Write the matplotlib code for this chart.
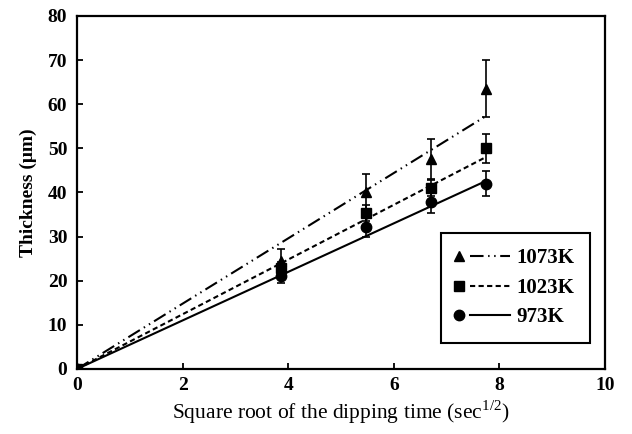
import matplotlib
matplotlib.use("Agg")
import numpy as np
import matplotlib.pyplot as plt
from matplotlib.lines import Line2D
from matplotlib.legend_handler import HandlerBase

# Sqrt of dipping time (sec^1/2): 0, 15, 30, 45, 60 s
sqrt_t = [0.0, 3.873, 5.477, 6.708, 7.746]

# Coating thickness (um) and scatter for each bath temperature
thick_1073 = [0.0, 24.5, 40.0, 47.6, 63.5]
err_1073 = [0.0, 2.7, 4.2, 4.6, 6.5]
thick_1023 = [0.0, 22.8, 35.4, 41.0, 50.0]
err_1023 = [0.0, 1.5, 1.8, 1.8, 3.3]
thick_973 = [0.0, 21.0, 32.2, 37.9, 42.0]
err_973 = [0.0, 1.6, 2.2, 2.6, 2.8]

# parabolic growth constants (linear fit through origin)
slope_1073 = 7.4
slope_1023 = 6.2
slope_973 = 5.5

labels = ["1073K", "1023K", "973K"]

plt.rcParams["font.family"] = ["Liberation Serif", "DejaVu Serif"]
plt.rcParams["mathtext.fontset"] = "custom"
plt.rcParams["mathtext.rm"] = "Liberation Serif"


class MarkerThenLine(HandlerBase):
    """Legend entry: marker on the left, line sample on the right."""

    def create_artists(self, legend, orig_handle, xdescent, ydescent,
                       width, height, fontsize, trans):
        y = height / 2 - ydescent
        x0 = -xdescent
        mk = Line2D([x0 + 0.06 * width], [y], linestyle="none",
                    marker=orig_handle.get_marker(),
                    markersize=orig_handle.get_markersize(), color="black")
        ln = Line2D([x0 + 0.26 * width, x0 + width], [y, y])
        ln.update_from(orig_handle)
        ln.set_marker("None")
        mk.set_transform(trans)
        ln.set_transform(trans)
        return [mk, ln]


fig = plt.figure(figsize=(6.32, 4.34), dpi=100)
ax = fig.add_axes([0.1218, 0.1498, 0.8354, 0.8134])

lw = 1.5
styles = [
    (thick_1073, err_1073, slope_1073, "^", (0, (6.5, 2.2, 0.7, 2.2, 0.7, 2.2))),
    (thick_1023, err_1023, slope_1023, "s", (0, (2.5, 1.6))),
    (thick_973, err_973, slope_973, "o", "-"),
]

x = np.array(sqrt_t)
handles = []
for (y, e, k, mk, ls), lab in zip(styles, labels):
    ax.plot([0, x[-1]], [0, k * x[-1]], color="black", lw=lw, linestyle=ls)
    ax.errorbar(x, y, yerr=e, fmt=mk, color="black", ms=7.5, ecolor="black",
                elinewidth=1.2, capsize=2.8, capthick=1.2, zorder=3)
    handles.append(Line2D([], [], color="black", lw=lw, linestyle=ls,
                          marker=mk, markersize=7.5))

ax.set_xlim(0, 10)
ax.set_ylim(0, 80)
ax.set_xticks([0, 2, 4, 6, 8, 10])
ax.set_yticks(range(0, 81, 10))
ax.tick_params(direction="in", length=4, width=1.3, labelsize=14)
ax.tick_params(axis="x", pad=6)
ax.tick_params(axis="y", pad=7)
for t in ax.get_xticklabels() + ax.get_yticklabels():
    t.set_fontweight("bold")
for sp in ax.spines.values():
    sp.set_linewidth(1.6)

ax.set_xlabel("Square root of the dipping time (sec$^{1/2}$)", fontsize=15.5,
              labelpad=3)
ax.set_ylabel("Thickness (μm)", fontsize=14, fontweight="bold", labelpad=8)

leg = ax.legend(handles, labels, loc="lower right",
                bbox_to_anchor=(0.972, 0.074), borderaxespad=0,
                handler_map={h: MarkerThenLine() for h in handles},
                handlelength=2.6, handletextpad=0.3, labelspacing=0.45,
                borderpad=0.75, fancybox=False, framealpha=1,
                prop={"weight": "bold", "size": 15})
leg.get_frame().set_edgecolor("black")
leg.get_frame().set_linewidth(1.5)

fig.savefig("out.png", dpi=100)
